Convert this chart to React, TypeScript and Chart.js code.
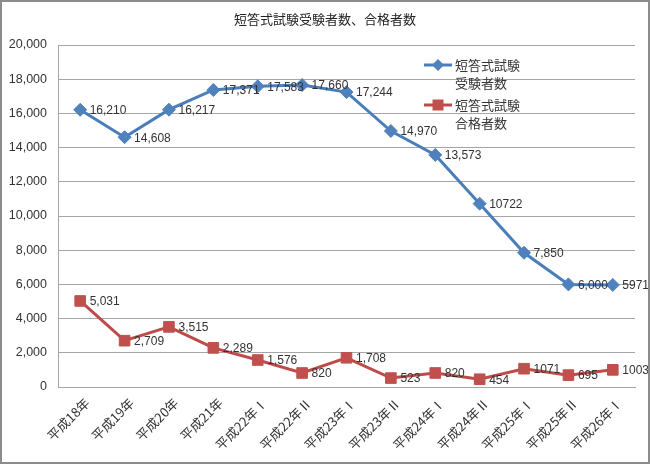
import React, { useEffect, useRef } from "react";
import { Chart, registerables } from "chart.js";

Chart.register(...registerables);

const categories = [
  "平成18年", "平成19年", "平成20年", "平成21年", "平成22年Ⅰ", "平成22年Ⅱ",
  "平成23年Ⅰ", "平成23年Ⅱ", "平成24年Ⅰ", "平成24年Ⅱ", "平成25年Ⅰ", "平成25年Ⅱ", "平成26年Ⅰ",
];
const examinees = [16210, 14608, 16217, 17371, 17583, 17660, 17244, 14970, 13573, 10722, 7850, 6000, 5971];
const examineeLabels = ["16,210", "14,608", "16,217", "17,371", "17,583", "17,660", "17,244", "14,970", "13,573", "10722", "7,850", "6,000", "5971"];
const passers = [5031, 2709, 3515, 2289, 1576, 820, 1708, 523, 820, 454, 1071, 695, 1003];
const passerLabels = ["5,031", "2,709", "3,515", "2,289", "1,576", "820", "1,708", "523", "820", "454", "1071", "695", "1003"];
const seriesNames = [["短答式試験", "受験者数"], ["短答式試験", "合格者数"]];
const titleText = "短答式試験受験者数、合格者数";

const BLUE_LINE = "#4A7EBB";
const BLUE_MARK = "#4F81BD";
const RED_LINE = "#BE4B48";
const RED_MARK = "#C0504D";
const TEXT = "#333333";
const GRID = "#A6A6A6";
const JP = "'Noto Sans CJK JP', sans-serif";
const LAT = "'Liberation Sans', 'Noto Sans CJK JP', sans-serif";

const labelLists = [examineeLabels, passerLabels];

const extras = {
  id: "extras",
  afterDatasetsDraw(chart: any) {
    const ctx = chart.ctx;
    ctx.save();
    // data labels
    ctx.font = "12px " + LAT;
    ctx.fillStyle = TEXT;
    ctx.textAlign = "left";
    ctx.textBaseline = "middle";
    chart.data.datasets.forEach((ds: any, di: number) => {
      const meta = chart.getDatasetMeta(di);
      meta.data.forEach((pt: any, i: number) => {
        ctx.fillText(labelLists[di][i], pt.x + 9.5, pt.y + 1);
      });
    });
    // legend
    const items = [
      { y: 65, line: BLUE_LINE, mark: BLUE_MARK, style: "rectRot" },
      { y: 105, line: RED_LINE, mark: RED_MARK, style: "rect" },
    ];
    items.forEach((it, k) => {
      ctx.strokeStyle = it.line;
      ctx.lineWidth = 3;
      ctx.beginPath();
      ctx.moveTo(424, it.y);
      ctx.lineTo(452, it.y);
      ctx.stroke();
      ctx.fillStyle = it.mark;
      ctx.beginPath();
      if (it.style === "rect") {
        ctx.rect(438 - 5.5, it.y - 5.5, 11, 11);
      } else {
        ctx.moveTo(438, it.y - 6);
        ctx.lineTo(444, it.y);
        ctx.lineTo(438, it.y + 6);
        ctx.lineTo(432, it.y);
        ctx.closePath();
      }
      ctx.fill();
      ctx.fillStyle = TEXT;
      ctx.font = "13px " + JP;
      ctx.textAlign = "left";
      ctx.textBaseline = "middle";
      ctx.fillText(seriesNames[k][0], 455, it.y);
      ctx.fillText(seriesNames[k][1], 455, it.y + 18);
    });
    // title
    ctx.fillStyle = "#222";
    ctx.font = "13px " + JP;
    ctx.textAlign = "center";
    ctx.fillText(titleText, 325, 19);
    // frame
    ctx.strokeStyle = "#8C8C8C";
    ctx.lineWidth = 2;
    ctx.strokeRect(1, 1, 648, 462);
    ctx.restore();
  },
};

export default function App() {
  const ref = useRef<HTMLCanvasElement>(null);
  useEffect(() => {
    document.body.style.margin = "0";
    const chart = new Chart(ref.current as HTMLCanvasElement, {
      type: "line",
      data: {
        labels: categories,
        datasets: [
          {
            label: "短答式試験受験者数",
            data: examinees,
            borderColor: BLUE_LINE,
            backgroundColor: BLUE_MARK,
            borderWidth: 3,
            pointStyle: "rectRot",
            pointRadius: 6.5,
            pointBorderWidth: 1,
            pointBorderColor: BLUE_MARK,
            pointBackgroundColor: BLUE_MARK,
            tension: 0,
          },
          {
            label: "短答式試験合格者数",
            data: passers,
            borderColor: RED_LINE,
            backgroundColor: RED_MARK,
            borderWidth: 3,
            pointStyle: "rect",
            pointRadius: 7.5,
            pointBorderWidth: 1,
            pointBorderColor: RED_MARK,
            pointBackgroundColor: RED_MARK,
            tension: 0,
          },
        ],
      },
      options: {
        animation: false,
        responsive: false,
        devicePixelRatio: 1,
        layout: { padding: { top: 45, right: 15, left: 0, bottom: 0 } },
        plugins: { legend: { display: false }, title: { display: false }, tooltip: { enabled: false } },
        scales: {
          x: {
            offset: true,
            grid: { display: false, drawTicks: false },
            border: { display: true, color: GRID, width: 1 },
            ticks: {
              color: TEXT,
              font: { size: 13, family: JP },
              maxRotation: 45,
              minRotation: 45,
              autoSkip: false,
              padding: 8,
              labelOffset: 7,
            },
            afterFit: (s: any) => { s.height = 77; },
          },
          y: {
            min: 0,
            max: 20000,
            grid: { color: GRID, lineWidth: 1, drawTicks: false },
            border: { display: true, color: GRID, width: 1 },
            ticks: {
              stepSize: 2000,
              color: TEXT,
              font: { size: 12.5, family: LAT },
              padding: 11,
              callback: (v: any) => Number(v).toLocaleString("en-US"),
            },
            afterFit: (s: any) => { s.width = 58; },
          },
        },
      },
      plugins: [extras],
    } as any);
    return () => chart.destroy();
  }, []);
  return (
    <div style={{ width: 650, height: 464 }}>
      <canvas ref={ref} width={650} height={464} style={{ display: "block" }} />
    </div>
  );
}
